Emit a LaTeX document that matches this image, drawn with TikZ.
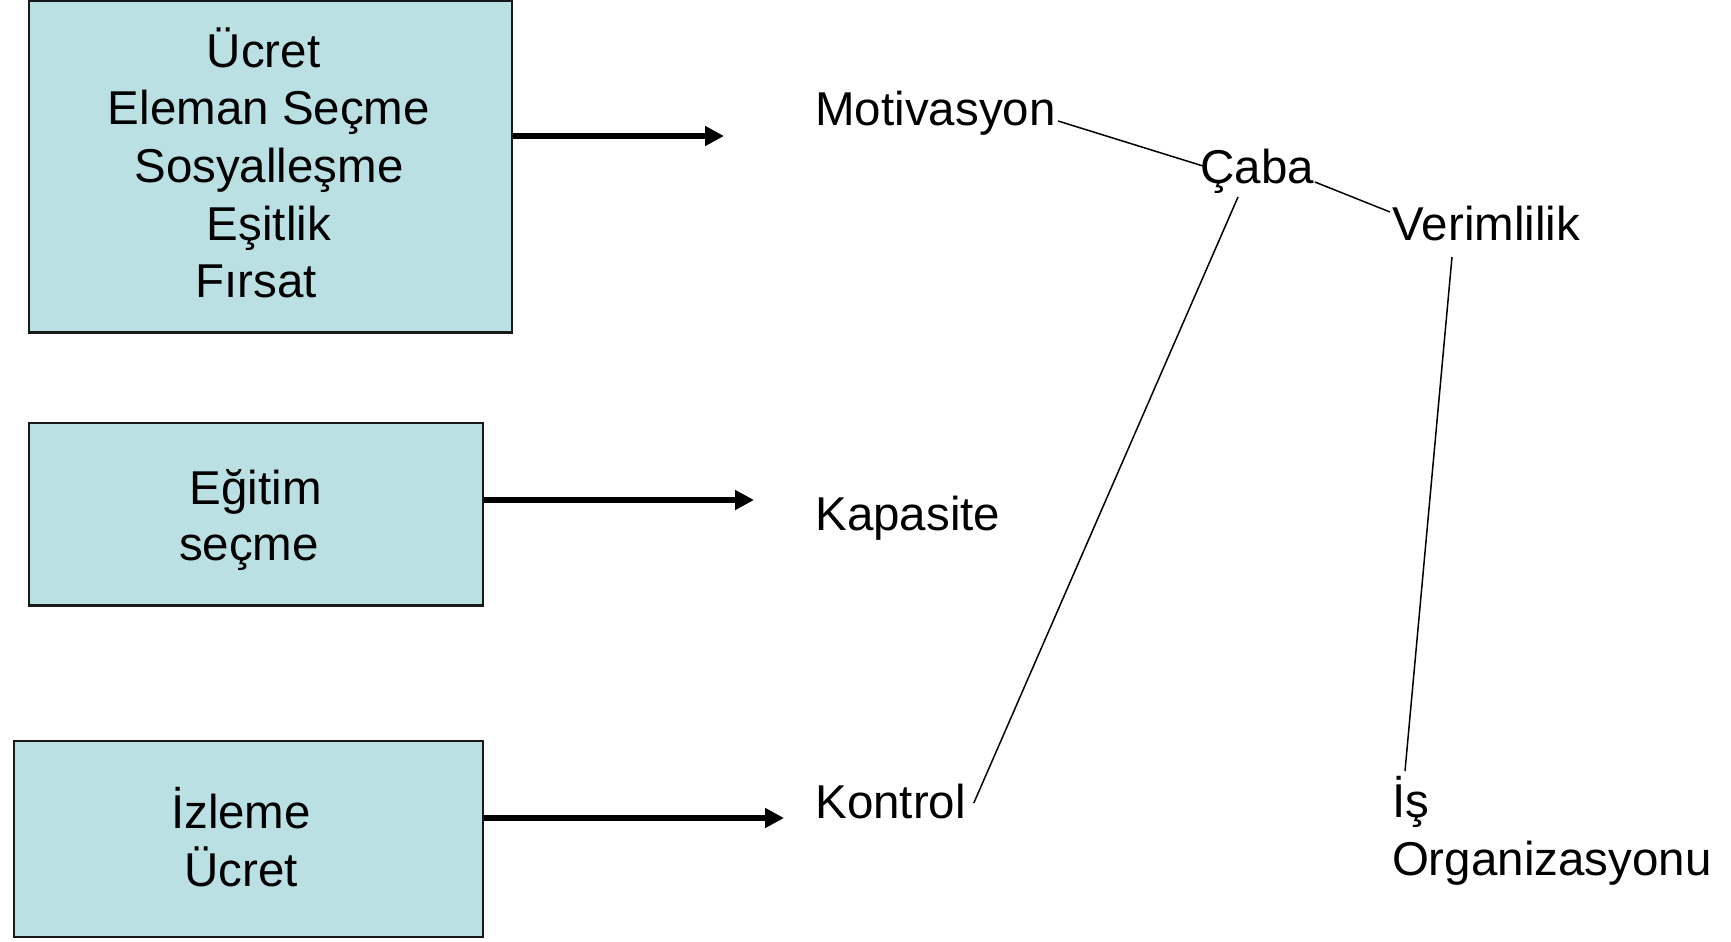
\documentclass[tikz,border=0pt]{standalone}
\usepackage{fontspec}
\setmainfont{Liberation Sans}
\usetikzlibrary{arrows.meta}
\definecolor{boxfill}{RGB}{187,224,227}
\begin{document}
\begin{tikzpicture}[x=0.5pt,y=-0.5pt,
  box/.style={draw=black!90, line width=1.1pt, fill=boxfill, inner sep=0pt},
  boxtext/.style={inner sep=0pt, align=center, anchor=base},
  lbl/.style={inner sep=0pt, anchor=base west},
  feed/.style={line width=3pt, -{Triangle[length=9.5pt,width=9.5pt]}},
  link/.style={line width=0.75pt},
  font=\fontsize{23.75}{28.8}\selectfont]
\useasboundingbox (0,0) rectangle (1731,942);

% input boxes
\node[box, minimum width=241.5pt, minimum height=166pt] (b1) at (270.5,166.5) {};
\node[box, minimum width=227pt, minimum height=91.25pt] (b2) at (256,514.2) {};
\node[box, minimum width=234.5pt, minimum height=98.3pt] (b3) at (248.5,839) {};

% box texts (anchored at the baseline of the last line)
\node[boxtext] (b1t) at (269,297.7)
  {Ücret\hspace*{5.5pt}\\Eleman Seçme\hspace*{7pt}\\Sosyalleşme\\Eşitlik\\Fırsat\hspace*{13pt}};
\node[boxtext, font=\fontsize{23.75}{27.75}\selectfont] (b2t) at (255.6,560)
  {Eğitim\\seçme\hspace*{6.6pt}};
\node[boxtext] (b3t) at (241,886) {İzleme\\Ücret};

% arrow tips
\coordinate (t1) at (724,136);
\coordinate (t2) at (754,500);
\coordinate (t3) at (784,818);
\draw[feed] (b1.east |- t1) -- (t1);
\draw[feed] (b2.east |- t2) -- (t2);
\draw[feed] (b3.east |- t3) -- (t3);

% factor labels
\node[lbl] (mot) at (815,125.7) {Motivasyon};
\node[lbl] (kap) at (815,530.5) {Kapasite};
\node[lbl] (kon) at (815,818) {Kontrol};
\node[lbl] (caba) at (1200,183) {Çaba};
\node[lbl] (ver) at (1392.5,240) {Verimlilik};
\node[lbl, align=left, font=\fontsize{23.75}{29}\selectfont] (isorg) at (1391.6,875) {İş\\Organizasyonu};

% links
\draw[link] ([shift={(1pt,2.35pt)}]mot.base east) -- ([shift={(1.5pt,8.5pt)}]caba.base west);
\draw[link] ([shift={(0.25pt,0.5pt)}]caba.base east) -- ([shift={(-1.25pt,14pt)}]ver.base west);
\draw[link] ([shift={(19pt,-7pt)}]caba.base west) -- ([shift={(3.75pt,7.5pt)}]kon.base east);
\draw[link] ([shift={(29.75pt,-8.5pt)}]ver.base west) -- ([shift={(6.7pt,52pt)}]isorg.base west);
\end{tikzpicture}
\end{document}
